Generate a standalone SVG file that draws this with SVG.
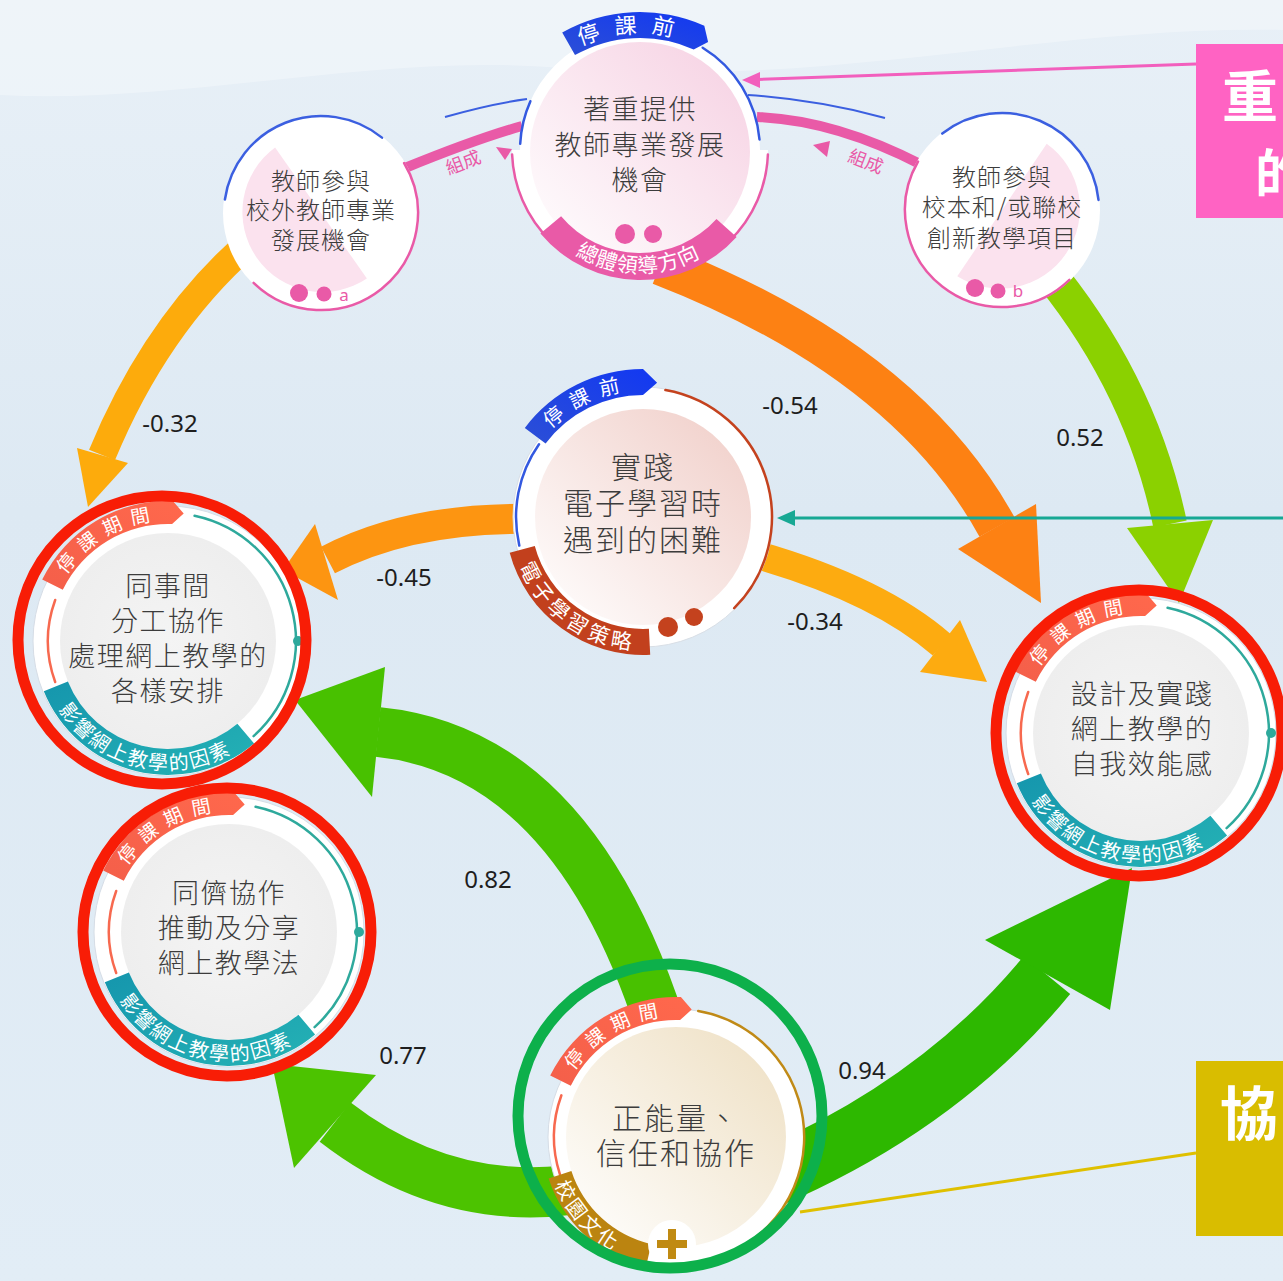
<svg xmlns="http://www.w3.org/2000/svg" width="1283" height="1281" viewBox="0 0 1283 1281">
<defs>
<style>
.nt{font-family:"Noto Sans CJK TC","Noto Sans CJK SC",sans-serif;font-weight:300;fill:#3c3c3c;text-anchor:middle}
.bt{font-family:"Noto Sans CJK TC","Noto Sans CJK SC",sans-serif;fill:#ffffff}
.num{font-family:"Noto Sans","Open Sans",sans-serif;font-size:24px;fill:#1e1e1e;text-anchor:middle}
.band{fill:none;stroke-linecap:butt}
.thin{fill:none;stroke-width:2.5;stroke-linecap:round}
.ring{fill:none;stroke-width:11}
.pinkc{fill:#e95aa7}
</style>
<linearGradient id="bg" x1="0" y1="0" x2="0" y2="1">
<stop offset="0" stop-color="#e8f0f7"/><stop offset="0.4" stop-color="#dde9f3"/><stop offset="1" stop-color="#e2edf6"/>
</linearGradient>
<linearGradient id="gPink" x1="1" y1="0" x2="0" y2="1"><stop offset="0" stop-color="#f6d0e2"/><stop offset="1" stop-color="#ffffff"/></linearGradient>
<linearGradient id="gRose" x1="1" y1="0" x2="0" y2="1"><stop offset="0" stop-color="#f0cdc7"/><stop offset="1" stop-color="#ffffff"/></linearGradient>
<linearGradient id="gCream" x1="1" y1="0" x2="0" y2="1"><stop offset="0" stop-color="#eedfc2"/><stop offset="1" stop-color="#ffffff"/></linearGradient>
<radialGradient id="gGray" cx="0.5" cy="0.5" r="0.5"><stop offset="0" stop-color="#f4f4f4"/><stop offset="1" stop-color="#eeeeee"/></radialGradient>
<linearGradient id="gCoral" x1="0" y1="1" x2="1" y2="0"><stop offset="0" stop-color="#f45f4a"/><stop offset="1" stop-color="#ff684c"/></linearGradient>
<linearGradient id="gTeal" x1="0" y1="0" x2="1" y2="1"><stop offset="0" stop-color="#1596ad"/><stop offset="1" stop-color="#25b2b5"/></linearGradient>
<linearGradient id="gBlue" x1="0" y1="1" x2="1" y2="0"><stop offset="0" stop-color="#2c4fd6"/><stop offset="1" stop-color="#1238f2"/></linearGradient>
<path id="tpCoral" d="M -107.8 -54.9 A 121 121 0 0 1 4.2 -120.9"/>
<path id="tpTeal" d="M -115.9 56.5 A 129 129 0 0 0 75.8 104.4"/>
<path id="tpPre1" d="M 580 46.9 A 137 137 0 0 1 686.9 41.3"/>
<path id="tpPD" d="M 551.5 235.4 A 123 123 0 0 0 725.4 238.5"/>
<path id="tpPre2" d="M -97.3 -81.6 A 127 127 0 0 1 -4.4 -126.9"/>
<path id="tpStrat" d="M -127.2 38.9 A 133 133 0 0 0 2.3 133"/>
<path id="tpCult" d="M -122.2 44.5 A 130 130 0 0 0 -35.8 125"/>
<path id="coralBanner" d="M -125.8 -61.4 A 140 140 0 0 1 4.9 -139.9 L 15.7 -127.5 L 4.1 -116.9 A 117 117 0 0 0 -105.2 -51.3 Z"/>
<g id="tplDuring">
<circle r="135" fill="#ffffff" stroke="#d6dde6" stroke-width="1"/>
<circle r="108" fill="url(#gGray)"/>
<path class="thin" d="M -112.8 -41 A 120 120 0 0 0 -112.8 41" stroke="#f7694f"/>
<path class="thin" d="M 26.6 -125.2 A 128 128 0 0 1 85.6 95.1" stroke="#2ea99c"/>
<circle cx="130" cy="0" r="5" fill="#2ea99c"/>
<use href="#coralBanner" fill="url(#gCoral)"/>
<path d="M 86.1 102.6 A 134 134 0 0 1 -124.2 50.2 L -100.1 40.5 A 108 108 0 0 0 69.4 82.7 Z" fill="url(#gTeal)"/>
</g>
</defs>

<rect x="0" y="0" width="1283" height="1281" fill="url(#bg)"/>
<path d="M0 0 H1283 V30 C1050 25 820 90 560 68 C380 52 180 105 0 95 Z" fill="#ffffff" opacity="0.3"/>

<g id="connectors">
<path class="band" d="M 262 232 Q 160 315 102 455" stroke="#fdab0c" stroke-width="28"/>
<polygon points="77,448 128,463 88,507" fill="#fdab0c"/>
<path class="band" d="M 660 265 Q 905 360 997 527" stroke="#fd8113" stroke-width="40"/>
<polygon points="1036,504 1041,603 958,549" fill="#fd8113"/>
<path class="band" d="M 1040 262 Q 1140 380 1170 524" stroke="#8bd100" stroke-width="34"/>
<polygon points="1127,528 1213,520 1179,603" fill="#8bd100"/>
<path class="band" d="M 560 520 Q 420 512 328 560" stroke="#fd9511" stroke-width="30"/>
<polygon points="315,524 338,600 283,570" fill="#fd9511"/>
<path class="band" d="M 720 545 Q 870 582 942 645" stroke="#fdab10" stroke-width="28"/>
<polygon points="960,620 920,672 987,682" fill="#fdab10"/>
<path class="band" d="M 665 1040 Q 577 752 378 732" stroke="#48c100" stroke-width="50"/>
<polygon points="385,667 372,797 295,700" fill="#48c100"/>
<path class="band" d="M 600 1185 Q 455 1215 335 1122" stroke="#4cc300" stroke-width="50"/>
<polygon points="376,1075 294,1168 272,1064" fill="#4cc300"/>
<path class="band" d="M 740 1190 Q 932 1115 1047 975" stroke="#2db800" stroke-width="60"/>
<polygon points="985,940 1110,1010 1132,868" fill="#2db800"/>

<path d="M 405 168 Q 476 139 522 126" fill="none" stroke="#e95aa7" stroke-width="10"/>
<path d="M 757 117 Q 835 120 922 165" fill="none" stroke="#e95aa7" stroke-width="10"/>
<path d="M 445 117 Q 490 104 527 99" fill="none" stroke="#3b5fe0" stroke-width="2"/>
<path d="M 748 95 Q 820 100 885 118" fill="none" stroke="#3b5fe0" stroke-width="2"/>
<text x="463" y="169" font-size="18" fill="#e95aa7" text-anchor="middle" transform="rotate(-21 463 162)" font-family="Noto Sans CJK TC, Noto Sans CJK SC, sans-serif">組成</text>
<text x="866" y="168" font-size="18" fill="#e95aa7" text-anchor="middle" transform="rotate(21 866 161)" font-family="Noto Sans CJK TC, Noto Sans CJK SC, sans-serif">組成</text>
<polygon points="496,147 512,149 505,160" fill="#e95aa7"/>
<polygon points="813,145 830,141 827,157" fill="#e95aa7"/>

<line x1="1196" y1="64" x2="758" y2="79.4" stroke="#f25fbd" stroke-width="3"/>
<polygon points="742,80 760,72 760,88" fill="#f25fbd"/>
<line x1="1283" y1="518" x2="792" y2="518" stroke="#17a894" stroke-width="3"/>
<polygon points="777,518 795,510 795,526" fill="#17a894"/>
<line x1="1196" y1="1153" x2="800" y2="1212" stroke="#dfc000" stroke-width="3"/>

<text class="num" x="170" y="432">-0.32</text>
<text class="num" x="790" y="414">-0.54</text>
<text class="num" x="1080" y="446">0.52</text>
<text class="num" x="404" y="586">-0.45</text>
<text class="num" x="815" y="630">-0.34</text>
<text class="num" x="488" y="888">0.82</text>
<text class="num" x="403" y="1064">0.77</text>
<text class="num" x="862" y="1079">0.94</text>
</g>

<g id="n-pd">
<path d="M 520 150 A 120 120 0 0 1 760 150 L 768 150 A 128 128 0 0 1 512 150 Z" fill="#ffffff"/>
<circle cx="640" cy="152" r="110" fill="url(#gPink)"/>
<path class="thin" d="M 702.7 47.7 A 120 120 0 0 1 759.5 139.5" stroke="#3359e0"/>
<path class="thin" d="M 520.2 143.7 A 120 120 0 0 1 530.4 101.2" stroke="#3359e0"/>
<path class="thin" d="M 767.9 154.5 A 128 128 0 0 1 512.1 154.5" stroke="#e95aa7"/>
<path d="M 562.2 32.5 A 158 158 0 0 1 704.3 25.7 L 708.1 42 L 693.7 49.4 A 132 132 0 0 0 575 55.1 Z" fill="url(#gBlue)"/>
<text class="bt" font-size="22" letter-spacing="14"><textPath href="#tpPre1" startOffset="50%" text-anchor="middle">停課前</textPath></text>
<path d="M 736.6 237 A 130 130 0 0 1 540.4 233.6 L 561.1 216.2 A 103 103 0 0 0 716.5 218.9 Z" fill="#e95aa7"/>
<circle cx="625" cy="234" r="10" fill="#e95aa7"/>
<circle cx="653" cy="234" r="9" fill="#e95aa7"/>
<text class="bt" font-size="21" letter-spacing="1"><textPath href="#tpPD" startOffset="50%" text-anchor="middle">總體領導方向</textPath></text>
<text class="nt" font-size="27" letter-spacing="1.5"><tspan x="640" y="119">著重提供</tspan><tspan x="640" y="155">教師專業發展</tspan><tspan x="640" y="190">機會</tspan></text>
</g>

<g id="n-ext">
<circle cx="321" cy="213" r="98" fill="#ffffff"/>
<path d="M 366.9 278.5 A 80 80 0 0 1 275.1 147.5 Z" fill="#fbe2ee"/>
<path class="thin" d="M 224.9 199.5 A 97 97 0 0 1 382 137.6" stroke="#3b5fe0"/>
<path class="thin" d="M 404.1 163 A 97 97 0 0 1 253.6 282.8" stroke="#e95aa7" stroke-width="3"/>
<circle cx="299" cy="293" r="9" class="pinkc"/>
<circle cx="324" cy="294" r="7.5" class="pinkc"/>
<text x="344" y="301" font-size="17" class="pinkc" text-anchor="middle" font-family="Noto Sans, sans-serif">a</text>
<text class="nt" font-size="24" letter-spacing="1"><tspan x="321" y="190">教師參與</tspan><tspan x="321" y="219">校外教師專業</tspan><tspan x="321" y="249">發展機會</tspan></text>
</g>

<g id="n-int">
<circle cx="1002" cy="210" r="98" fill="#ffffff"/>
<path d="M 1046.7 143.7 A 80 80 0 0 1 957.3 276.3 Z" fill="#fbe2ee"/>
<path class="thin" d="M 942.3 133.6 A 97 97 0 0 1 1098.5 199.9" stroke="#3b5fe0"/>
<path class="thin" d="M 1069.4 279.8 A 97 97 0 0 1 918 161.5" stroke="#e95aa7" stroke-width="3"/>
<circle cx="975" cy="288" r="9" class="pinkc"/>
<circle cx="998" cy="291" r="7.5" class="pinkc"/>
<text x="1018" y="297" font-size="17" class="pinkc" text-anchor="middle" font-family="Noto Sans, sans-serif">b</text>
<text class="nt" font-size="24" letter-spacing="1"><tspan x="1002" y="186">教師參與</tspan><tspan x="1002" y="216">校本和/或聯校</tspan><tspan x="1002" y="247">創新教學項目</tspan></text>
</g>

<g id="n-difficulty">
<g transform="translate(643,517)">
<circle r="130" fill="#ffffff" stroke="#d9dfe6" stroke-width="1"/>
<circle r="108" fill="url(#gRose)"/>
<path class="thin" d="M 22.4 -127 A 129 129 0 0 1 91.2 91.2" stroke="#c4421e" stroke-width="2"/>
<path class="thin" d="M -104 -72.8 A 127 127 0 0 0 -123.7 28.6" stroke="#3359e0" stroke-width="2"/>
<path d="M -118.2 -89.1 A 148 148 0 0 1 0 -148 L 14.1 -134.3 L 0 -122 A 122 122 0 0 0 -97.4 -73.4 Z" fill="url(#gBlue)"/>
<path d="M 7.2 137.8 A 138 138 0 0 1 -133.3 35.7 L -108.2 29 A 112 112 0 0 0 5.9 111.8 Z" fill="#c2401d"/>
<circle cx="25" cy="110" r="10" fill="#c4421e"/>
<circle cx="51" cy="100" r="9" fill="#c4421e"/>
<text class="bt" font-size="20" letter-spacing="10"><textPath href="#tpPre2" startOffset="50%" text-anchor="middle">停課前</textPath></text>
<text class="bt" font-size="21" letter-spacing="4"><textPath href="#tpStrat" startOffset="50%" text-anchor="middle">電子學習策略</textPath></text>
</g>
<text class="nt" font-size="30" letter-spacing="2"><tspan x="643" y="478">實踐</tspan><tspan x="643" y="514">電子學習時</tspan><tspan x="643" y="551">遇到的困難</tspan></text>
</g>

<g id="n-colleague">
<use href="#tplDuring" transform="translate(168,641)"/>
<g transform="translate(168,641)">
<text class="bt" font-size="19" letter-spacing="9"><textPath href="#tpCoral" startOffset="50%" text-anchor="middle">停課期間</textPath></text>
<text class="bt" font-size="20" letter-spacing="2"><textPath href="#tpTeal" startOffset="50%" text-anchor="middle">影響網上教學的因素</textPath></text>
</g>
<text class="nt" font-size="27" letter-spacing="1.5"><tspan x="168" y="596">同事間</tspan><tspan x="168" y="631">分工協作</tspan><tspan x="168" y="666">處理網上教學的</tspan><tspan x="168" y="701">各樣安排</tspan></text>
<circle cx="162" cy="640" r="144" class="ring" stroke="#f81d06"/>
</g>

<g id="n-efficacy">
<use href="#tplDuring" transform="translate(1141,733)"/>
<g transform="translate(1141,733)">
<text class="bt" font-size="19" letter-spacing="9"><textPath href="#tpCoral" startOffset="50%" text-anchor="middle">停課期間</textPath></text>
<text class="bt" font-size="20" letter-spacing="2"><textPath href="#tpTeal" startOffset="50%" text-anchor="middle">影響網上教學的因素</textPath></text>
</g>
<text class="nt" font-size="27" letter-spacing="1.5"><tspan x="1142" y="704">設計及實踐</tspan><tspan x="1142" y="739">網上教學的</tspan><tspan x="1142" y="774">自我效能感</tspan></text>
<circle cx="1139" cy="733" r="143" class="ring" stroke="#f81d06"/>
</g>

<g id="n-peer">
<use href="#tplDuring" transform="translate(229,932)"/>
<g transform="translate(229,932)">
<text class="bt" font-size="19" letter-spacing="9"><textPath href="#tpCoral" startOffset="50%" text-anchor="middle">停課期間</textPath></text>
<text class="bt" font-size="20" letter-spacing="2"><textPath href="#tpTeal" startOffset="50%" text-anchor="middle">影響網上教學的因素</textPath></text>
</g>
<text class="nt" font-size="27" letter-spacing="1.5"><tspan x="229" y="903">同儕協作</tspan><tspan x="229" y="938">推動及分享</tspan><tspan x="229" y="973">網上教學法</tspan></text>
<circle cx="227" cy="932" r="144" class="ring" stroke="#f81d06"/>
</g>

<g id="n-culture">
<g transform="translate(676,1137)">
<circle r="128" fill="#ffffff" stroke="#d6dde6" stroke-width="1"/>
<circle r="110" fill="url(#gCream)"/>
<path class="thin" d="M -114.6 -41.7 A 122 122 0 0 0 -116 37.7" stroke="#f7694f"/>
<path class="thin" d="M 22.2 -126.1 A 128 128 0 0 1 8.9 127.7" stroke="#c08a17"/>
<use href="#coralBanner" fill="url(#gCoral)"/>
<path d="M -30.2 130.6 A 134 134 0 0 1 -127.4 41.4 L -104.6 34 A 110 110 0 0 0 -24.8 107.2 Z" fill="#bb8410"/>
<circle cx="-4" cy="107" r="24" fill="#ffffff"/>
<path d="M -4 92 V 122 M -19 107 H 11" stroke="#c08a12" stroke-width="8" fill="none"/>
<text class="bt" font-size="19" letter-spacing="9"><textPath href="#tpCoral" startOffset="50%" text-anchor="middle">停課期間</textPath></text>
<text class="bt" font-size="20" letter-spacing="3"><textPath href="#tpCult" startOffset="40%" text-anchor="middle">校園文化</textPath></text>
</g>
<text class="nt" font-size="30" letter-spacing="2"><tspan x="676" y="1129">正能量、</tspan><tspan x="676" y="1164">信任和協作</tspan></text>
<circle cx="670" cy="1116" r="152" class="ring" stroke="#0db04b"/>
</g>

<g id="box-pd">
<rect x="1196" y="44" width="90" height="174" fill="#ff63c3"/>
<text x="1250" y="117" font-size="56" fill="#ffffff" text-anchor="middle" font-weight="bold" font-family="Noto Sans CJK TC, Noto Sans CJK SC, sans-serif">重</text>
<text x="1255" y="193" font-size="52" fill="#ffffff" font-weight="bold" font-family="Noto Sans CJK TC, Noto Sans CJK SC, sans-serif">的</text>
</g>
<g id="box-collab">
<rect x="1196" y="1061" width="90" height="175" fill="#d9bd00"/>
<text x="1249" y="1135" font-size="58" fill="#ffffff" text-anchor="middle" font-weight="bold" font-family="Noto Sans CJK TC, Noto Sans CJK SC, sans-serif">協</text>
</g>
</svg>
